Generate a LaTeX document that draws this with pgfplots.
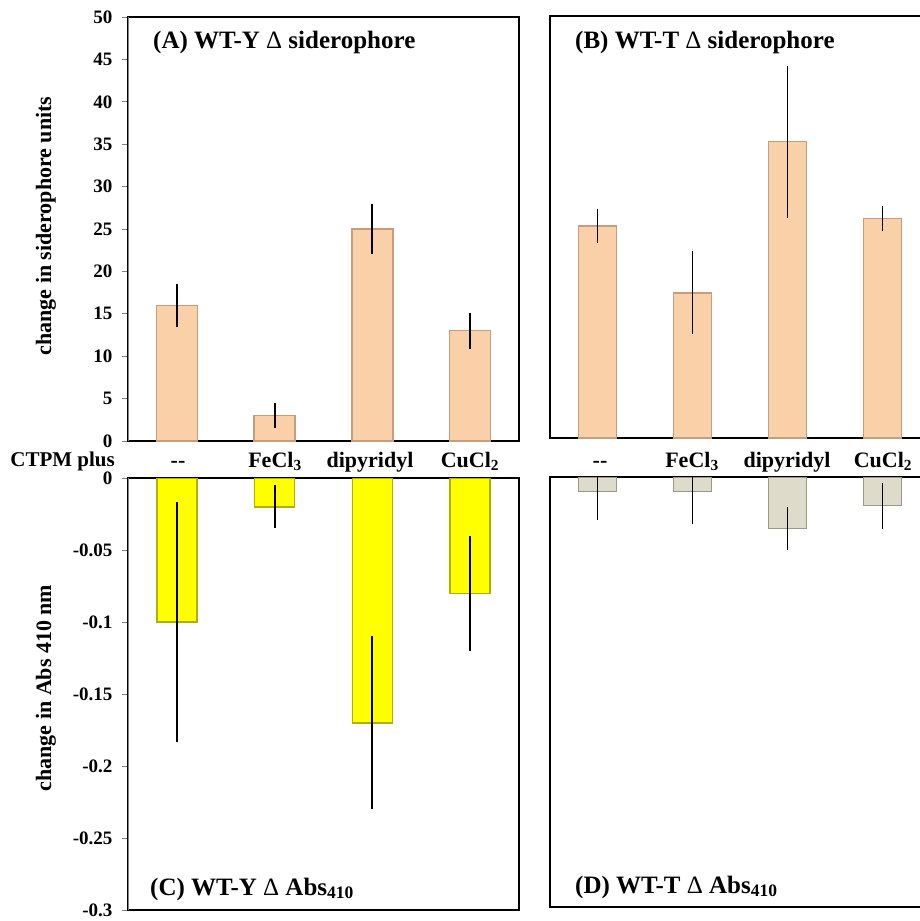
\documentclass[border=0pt]{standalone}
\usepackage{fontspec}
\setmainfont{Liberation Serif}
\usepackage{pgfplots}
\pgfplotsset{compat=1.18}

\definecolor{peach}{HTML}{FAD0A8}
\definecolor{peachedge}{HTML}{C49E80}
\definecolor{yel}{HTML}{FFFF00}
\definecolor{yeledge}{HTML}{B0B000}
\definecolor{beige}{HTML}{DEDBCB}
\definecolor{beigeedge}{HTML}{9A988C}

\pgfplotsset{
  panel/.style={
    scale only axis, ybar, xmin=0.5, xmax=4.5, xtick=\empty,
    axis line style={black, line width=1.6pt},
    tick label style={font=\fontsize{19}{19}\selectfont\bfseries},
  },
  ticked/.style={
    ytick pos=left, tick align=outside, major tick length=6pt,
    ytick style={gray, line width=1pt},
    yticklabel style={xshift=-6pt, inner ysep=0pt},
  },
  noticks/.style={ytick=\empty},
  errs/.style={error bars/.cd, y dir=both, y explicit, error mark=none,
    error bar style={line width=1.8pt, black}},
}

\newcommand{\lab}{\fontsize{22}{22}\selectfont\bfseries}
\newcommand{\ttl}{\fontsize{25}{25}\selectfont\bfseries}

\begin{document}
\begin{tikzpicture}
\useasboundingbox (0,0) rectangle (919pt,-921pt);

% (A)
\begin{axis}[panel, ticked, at={(128pt,-441pt)}, anchor=south west,
  width=391pt, height=424pt, ymin=0, ymax=50, bar width=41pt,
  ytick={0,5,...,50}, yticklabels={0,5,10,15,20,25,30,35,40,45,50}]
\addplot[fill=peach, draw=peachedge, line width=1.4pt, errs] coordinates {
  (1,16) +- (0,2.5)
  (2,3) +- (0,1.5)
  (3,25) +- (0,3)
  (4,13) +- (0,2.1)
};
\draw[gray, line width=1.2pt] (rel axis cs:0,0) -- (rel axis cs:0,1);
\end{axis}

% (B)
\begin{axis}[panel, noticks, at={(550pt,-438pt)}, anchor=south west,
  width=380pt, height=422pt, ymin=0, ymax=50, bar width=38pt]
\addplot[fill=peach, draw=peachedge, line width=1.4pt, errs] coordinates {
  (1,25.1) +- (0,2)
  (2,17.2) +- (0,4.9)
  (3,35.1) +- (0,9)
  (4,26.0) +- (0,1.5)
};
\end{axis}

% (C)
\begin{axis}[panel, ticked, at={(128pt,-910pt)}, anchor=south west,
  width=391pt, height=432pt, ymin=-0.3, ymax=0, bar width=40pt,
  ytick={-0.3,-0.25,-0.2,-0.15,-0.1,-0.05,0},
  yticklabels={-0.3,-0.25,-0.2,-0.15,-0.1,-0.05,0}]
\addplot[fill=yel, draw=yeledge, line width=1.4pt, errs] coordinates {
  (1,-0.1) +- (0,0.083)
  (2,-0.02) +- (0,0.015)
  (3,-0.17) +- (0,0.06)
  (4,-0.08) +- (0,0.04)
};
\draw[gray, line width=1.2pt] (rel axis cs:0,0) -- (rel axis cs:0,1);
\end{axis}

% (D)
\begin{axis}[panel, noticks, at={(550pt,-907pt)}, anchor=south west,
  width=380pt, height=430pt, ymin=-0.3, ymax=0, bar width=38pt]
\addplot[fill=beige, draw=beigeedge, line width=1.4pt, errs] coordinates {
  (1,-0.01) +- (0,0.02)
  (2,-0.01) +- (0,0.023)
  (3,-0.036) +- (0,0.015)
  (4,-0.02) +- (0,0.016)
};
\end{axis}

% titles
\node[anchor=base west, inner sep=0] at (153pt,-48pt) {\ttl (A) WT-Y {\mdseries Δ} siderophore};
\node[anchor=base west, inner sep=0] at (575pt,-48pt) {\ttl (B) WT-T {\mdseries Δ} siderophore};
\node[anchor=base west, inner sep=0] at (150pt,-895pt) {\ttl (C) WT-Y {\mdseries Δ} Abs\textsubscript{410}};
\node[anchor=base west, inner sep=0] at (575pt,-893pt) {\ttl (D) WT-T {\mdseries Δ} Abs\textsubscript{410}};

% category labels
\node[anchor=base east, inner sep=0] at (115pt,-466pt) {\fontsize{21}{21}\selectfont\bfseries CTPM plus};
\foreach \x/\t in {178/-{}-, 275/FeCl\textsubscript{3}, 370/dipyridyl, 470/CuCl\textsubscript{2},
                   600/-{}-, 692/FeCl\textsubscript{3}, 787/dipyridyl, 883/CuCl\textsubscript{2}}
  \node[anchor=base, inner sep=0] at (\x pt,-467pt) {\lab \t};

% y labels
\node[rotate=90, inner sep=0] at (46pt,-226pt) {\fontsize{22}{22}\selectfont\bfseries change in siderophore units};
\node[rotate=90, inner sep=0] at (46pt,-688pt) {\fontsize{22}{22}\selectfont\bfseries change in Abs 410 nm};
\end{tikzpicture}
\end{document}
